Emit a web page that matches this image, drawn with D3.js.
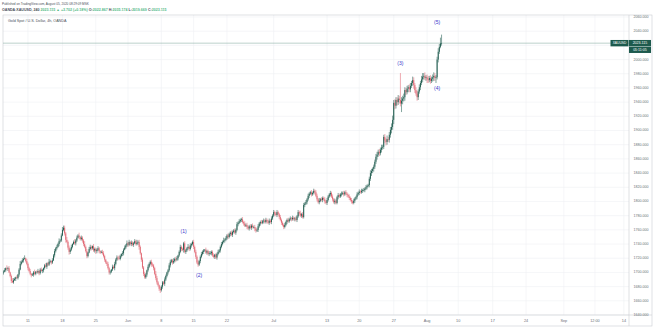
<!DOCTYPE html>
<html><head><meta charset="utf-8">
<script src="https://cdn.jsdelivr.net/npm/d3@7"></script>
<style>body{margin:0;background:#fff;overflow:hidden}svg{display:block}</style>
</head><body>
<svg id="c" width="654" height="328"></svg>
<script>
// ---- DATA (4h bars, OANDA:XAUUSD, early May -> 05 Aug 2020) ----
const firstOpen = 1700;
const closes = [
1701,1703,1706,1705,1706,1700, 1695,1688,1686,1689,1691,1693, 1692,1697,1704,1712,1715,1717,
1719,1720,1716,1712,1706,1702, 1698,1696,1697,1700,1698,1701, 1700,1702,1699,1704,1702,1703,
1706,1710,1708,1713,1711,1715, 1716,1714,1717,1724,1730,1734, 1736,1740,1744,1745,1752,1760,
1763,1755,1746,1743,1735,1729, 1732,1736,1740,1743,1741,1745, 1749,1752,1750,1747,1749,1745,
1740,1736,1730,1723,1728,1733, 1736,1734,1737,1731,1733,1730, 1732,1734,1730,1728,1729,1727,
1723,1718,1714,1712,1706,1700, 1701,1704,1708,1706,1712,1718, 1721,1720,1719,1723,1726,1727,
1732,1735,1738,1741,1739,1743, 1740,1742,1739,1741,1744,1740, 1742,1743,1736,1727,1718,1707,
1698,1693,1697,1703,1708,1712, 1715,1711,1710,1706,1698,1692, 1686,1682,1677,1675,1680,1686,
1684,1690,1695,1700,1703,1710, 1715,1717,1714,1716,1719,1718, 1720,1724,1729,1736,1733,1732,
1741,1729,1731,1734,1736,1733, 1738,1740,1743,1736,1729,1722, 1714,1711,1716,1722,1726,1729,
1731,1732,1728,1730,1726,1727, 1727,1729,1724,1722,1725,1721, 1726,1729,1731,1736,1740,1743,
1745,1746,1748,1752,1750,1754, 1756,1753,1757,1759,1756,1760, 1768,1770,1772,1774,1775,1771,
1769,1766,1767,1764,1762,1765, 1763,1766,1764,1764,1762,1759, 1760,1765,1769,1771,1770,1772,
1773,1771,1774,1772,1770,1773, 1771,1776,1780,1785,1783,1781, 1785,1782,1778,1774,1770,1767,
1764,1767,1771,1774,1772,1775, 1776,1775,1777,1775,1776,1774, 1779,1785,1783,1780,1782,1778,
1795,1797,1799,1803,1808,1811, 1813,1810,1812,1815,1813,1808, 1803,1799,1801,1803,1802,1805,
1803,1800,1798,1802,1807,1810, 1812,1807,1803,1799,1801,1798, 1806,1809,1807,1810,1811,1812,
1810,1813,1811,1809,1807,1805, 1802,1800,1798,1801,1804,1806, 1810,1812,1814,1813,1815,1816,
1816,1818,1820,1822,1823,1832, 1840,1843,1846,1849,1856,1863, 1866,1870,1868,1873,1876,1877,
1891,1886,1884,1888,1887,1894, 1901,1905,1915,1939,1935,1943, 1940,1945,1943,1938,1942,1945,
1947,1957,1954,1959,1961,1958, 1963,1967,1971,1964,1957,1952, 1947,1955,1961,1967,1972,1976,
1977,1974,1975,1972,1971,1974, 1970,1973,1975,1977,1974,1975, 2000,2011,2018,2022.867,2023.115
];
const upWick = [
2,3,1,4,2,3, 1,2,4,3,2,1, 3,1,2,4,2,3, 2,4,1,3,2,2, 3,1,2,2,4,1, 2,3,1,2,3,2,
1,2,3,1,2,4, 2,1,3,2,3,2, 3,2,4,2,3,4, 3,3,2,4,2,3, 2,3,1,2,4,2, 3,2,4,1,3,2,
2,4,2,3,1,3, 3,2,1,3,2,2, 2,3,2,1,2,3, 3,2,1,2,3,2, 2,1,3,2,3,2, 3,2,4,2,1,3,
2,3,2,4,2,3, 1,3,2,2,3,2, 4,2,3,2,1,3, 2,3,2,1,3,2, 2,3,3,2,2,4, 3,2,1,3,2,2,
2,3,2,1,2,3, 3,2,2,4,2,3, 3,1,2,3,2,2, 2,3,2,2,4,2, 3,2,2,3,2,3, 2,3,2,2,3,2,
2,1,3,2,2,3, 3,2,2,3,1,2, 2,3,2,2,3,2, 4,2,3,2,3,2, 2,3,2,2,3,2, 3,2,3,2,2,3,
2,3,2,3,2,2, 3,2,3,2,3,2, 2,3,2,2,3,2, 3,2,3,2,2,3, 2,3,2,3,2,2, 3,2,2,3,2,2,
2,3,2,2,3,2, 3,2,3,2,2,3, 2,3,2,4,2,3, 3,2,3,2,3,2, 2,3,2,3,2,3, 3,2,4,2,3,2,
2,3,2,3,2,2, 3,2,3,2,3,2, 2,3,2,2,3,2, 3,2,3,2,2,3, 2,3,2,3,2,2, 3,2,3,2,3,2,
3,2,3,2,2,3, 4,3,2,3,3,4, 4,3,4,3,4,3, 3,4,3,5,3,4, 4,5,6,4,5,4, 4,5,4,38,5,4,
5,4,3,4,3,4, 4,3,5,4,3,4, 4,3,4,3,5,5, 4,5,3,4,5,3, 4,3,4,5,4,3, 4,5,4,8,12.06
];
const dnWick = [
3,1,2,2,3,1, 2,3,1,2,1,3, 1,2,3,1,2,2, 3,1,2,2,3,2, 2,3,1,3,2,2, 1,2,3,2,1,3,
3,2,1,3,2,2, 2,3,2,1,3,2, 2,1,3,2,2,1, 2,3,4,2,3,4, 3,2,2,1,2,3, 2,1,3,2,2,3,
3,2,2,3,2,1, 2,3,2,2,3,4, 3,2,3,2,1,2, 2,3,2,3,2,3, 3,2,2,1,3,2, 2,3,1,2,2,3,
3,1,2,2,3,2, 2,3,2,3,1,2, 2,3,4,2,3,2, 3,2,2,3,2,2, 2,3,2,3,2,3, 3,2,3,4,2,3,
2,3,2,2,3,2, 3,2,3,2,2,3, 2,3,2,2,3,2, 4,2,3,2,2,3, 2,3,2,3,2,3, 2,3,2,3,2,2,
3,2,2,3,2,3, 2,3,2,2,3,2, 3,2,2,3,2,2, 2,3,2,2,3,2, 3,2,3,2,2,3, 2,3,2,2,3,2,
3,2,2,3,2,3, 2,3,2,2,4,3, 2,3,2,3,2,2, 3,2,2,3,2,3, 2,3,2,2,3,2, 3,2,3,2,3,2,
3,2,2,3,2,2, 2,3,2,2,3,2, 3,2,3,2,3,2, 2,3,2,3,2,3, 2,3,2,2,3,2, 3,2,3,2,2,3,
2,3,2,3,2,2, 3,2,3,2,3,2, 2,3,2,2,3,2, 3,2,2,3,2,3, 2,3,2,2,3,2, 3,2,3,2,2,3,
2,3,2,3,2,3, 3,4,3,4,3,3, 4,3,4,3,4,3, 3,4,5,4,3,4, 4,5,4,6,5,4, 5,4,5,4,12,5,
4,5,4,3,5,4, 4,3,4,5,4,3, 5,4,3,4,3,4, 4,3,4,5,4,3, 4,3,4,5,4,7, 3,4,3,2,3.2
];
const priceTicks = [1640,1660,1680,1700,1720,1740,1760,1780,1800,1820,1840,1860,1880,1900,1920,1940,1960,1980,2000,2020,2040,2060];
const timeLabels = ["11","18","25","Jun","8","15","22","Jul","13","20","27","Aug","10","17","24","Sep","12:00","14"];
const timeTickBars = [22,53,83,112,142,171,201,243,291,320,351,381,409,440,470,504,532,558];
const waveLabels = ["(1)","(2)","(3)","(4)","(5)"];
const waveBars = [162,176,357,390,390];
const wavePrices = [1758,1696,1994,1959,2052];
const lastPrice = 2023.115;
const countdown = "05:11:05";
const symbolTag = "XAUUSD";
const header1 = "Published on TradingView.com, August 05, 2020 08:29:09 MSK";
const header2Parts = [["OANDA:XAUUSD, 240 ","#4a4f5a"],["2023.115 \u25B2 +3.702 (+0.18%) ","#53b987"],["O:","#4a4f5a"],["2022.867 ","#53b987"],["H:","#4a4f5a"],["2035.174 ","#53b987"],["L:","#4a4f5a"],["2019.669 ","#53b987"],["C:","#4a4f5a"],["2023.115","#53b987"]];
const legendText = "Gold Spot / U.S. Dollar, 4h, OANDA";

// ---- build OHLC ----
const n = Math.min(closes.length, upWick.length, dnWick.length);
const bars = [];
for (let i = 0; i < n; i++) {
  const o = i === 0 ? firstOpen : closes[i-1];
  const c = closes[i];
  bars.push({i, o, c, h: Math.max(o,c) + upWick[i], l: Math.min(o,c) - dnWick[i]});
}

// ---- layout ----
const W = 654, H = 328;
const plot = {left: 3, top: 15, right: 629, bottom: 315};
const axisBottom = 326, axisRight = 652;
const svg = d3.select("#c");
const font = "Liberation Sans, Arial, sans-serif";

const x = d3.scaleLinear().domain([0, 562.6]).range([3.5, plot.right]);
const y = d3.scaleLinear().domain([1640, 2060]).range([315, 17]);
const UP = "#1d5a4d", DOWN = "#e0636f", TAG = "#1d5a4d";

svg.append("rect").attr("width", W).attr("height", H).attr("fill", "#fff");

// grid
const g = svg.append("g");
g.selectAll("line.hg").data(priceTicks).join("line")
  .attr("x1", plot.left).attr("x2", plot.right)
  .attr("y1", d => y(d)).attr("y2", d => y(d))
  .attr("stroke", "#eef0f4").attr("stroke-width", 0.6);
g.selectAll("line.vg").data(timeTickBars).join("line")
  .attr("x1", d => x(d)).attr("x2", d => x(d))
  .attr("y1", plot.top).attr("y2", plot.bottom)
  .attr("stroke", "#eef0f4").attr("stroke-width", 0.6);

// frame
const fr = svg.append("g").attr("stroke", "#c9ccd2").attr("stroke-width", 0.6).attr("fill", "none");
fr.append("rect").attr("x", plot.left).attr("y", plot.top).attr("width", axisRight - plot.left).attr("height", axisBottom - plot.top);
fr.append("line").attr("x1", plot.left).attr("x2", axisRight).attr("y1", plot.bottom).attr("y2", plot.bottom);
fr.append("line").attr("x1", plot.right).attr("x2", plot.right).attr("y1", plot.top).attr("y2", axisBottom);

// last price line
svg.append("line").attr("x1", plot.left).attr("x2", plot.right)
  .attr("y1", y(lastPrice)).attr("y2", y(lastPrice))
  .attr("stroke", "#8fb3a9").attr("stroke-width", 0.6);

// candles
const step = x(1) - x(0);
const cg = svg.append("g");
cg.selectAll("line.w").data(bars).join("line")
  .attr("x1", d => x(d.i)).attr("x2", d => x(d.i))
  .attr("y1", d => y(d.h)).attr("y2", d => y(d.l))
  .attr("stroke", d => d.c >= d.o ? UP : DOWN).attr("stroke-width", 0.55);
cg.selectAll("rect.b").data(bars).join("rect")
  .attr("x", d => x(d.i) - step * 0.4).attr("width", step * 0.8)
  .attr("y", d => y(Math.max(d.o, d.c)))
  .attr("height", d => Math.max(0.5, Math.abs(y(d.o) - y(d.c))))
  .attr("fill", d => d.c >= d.o ? UP : DOWN);

// wave labels
svg.selectAll("text.wave").data(waveLabels).join("text")
  .attr("x", (d, k) => x(waveBars[k])).attr("y", (d, k) => y(wavePrices[k]))
  .attr("text-anchor", "middle").attr("dominant-baseline", "middle")
  .attr("font-family", font).attr("font-size", 5).attr("fill", "#3a3acb").text(d => d);

// price axis labels (hidden where the last-price tag covers them)
const ly = y(lastPrice);
svg.selectAll("text.p").data(priceTicks.filter(d => Math.abs(y(d) - ly) > 5 && Math.abs(y(d) - (ly + 6.7)) > 5)).join("text")
  .attr("x", 641).attr("y", d => y(d))
  .attr("text-anchor", "middle").attr("dominant-baseline", "middle")
  .attr("font-family", font).attr("font-size", 3.6).attr("fill", "#6a6f78")
  .text(d => d3.format(".3f")(d));

// time labels
svg.selectAll("text.t").data(timeLabels).join("text")
  .attr("x", (d, k) => x(timeTickBars[k])).attr("y", 321)
  .attr("text-anchor", "middle").attr("dominant-baseline", "middle")
  .attr("font-family", font).attr("font-size", 3.8).attr("fill", "#6a6f78").text(d => d);

// tags
svg.append("rect").attr("x", 610.5).attr("y", ly - 3.2).attr("width", 18).attr("height", 6.4).attr("fill", TAG);
svg.append("text").attr("x", 619.5).attr("y", ly).attr("text-anchor", "middle").attr("dominant-baseline", "middle")
  .attr("font-family", font).attr("font-size", 3.3).attr("fill", "#fff").text(symbolTag);
svg.append("rect").attr("x", plot.right).attr("y", ly - 3.2).attr("width", 22).attr("height", 6.4).attr("fill", TAG);
svg.append("text").attr("x", 640).attr("y", ly).attr("text-anchor", "middle").attr("dominant-baseline", "middle")
  .attr("font-family", font).attr("font-size", 3.6).attr("fill", "#fff").text(d3.format(".3f")(lastPrice));
svg.append("rect").attr("x", plot.right).attr("y", ly + 3.6).attr("width", 22).attr("height", 6.2).attr("fill", TAG);
svg.append("text").attr("x", 640).attr("y", ly + 6.7).attr("text-anchor", "middle").attr("dominant-baseline", "middle")
  .attr("font-family", font).attr("font-size", 3.6).attr("fill", "#fff").text(countdown);

// header
svg.append("text").attr("x", 2).attr("y", 4.2).attr("dominant-baseline", "middle")
  .attr("font-family", font).attr("font-size", 3.1).attr("fill", "#4a4f5a").text(header1);
const h2 = svg.append("text").attr("x", 2).attr("y", 10.2).attr("dominant-baseline", "middle")
  .attr("font-family", font).attr("font-size", 3.6).attr("font-weight", "bold");
h2.selectAll("tspan").data(header2Parts).join("tspan").attr("fill", d => d[1]).text(d => d[0]);
svg.append("text").attr("x", 8).attr("y", 21).attr("dominant-baseline", "middle")
  .attr("font-family", font).attr("font-size", 3.7).attr("fill", "#4a4f5a").text(legendText);
</script>
</body></html>
